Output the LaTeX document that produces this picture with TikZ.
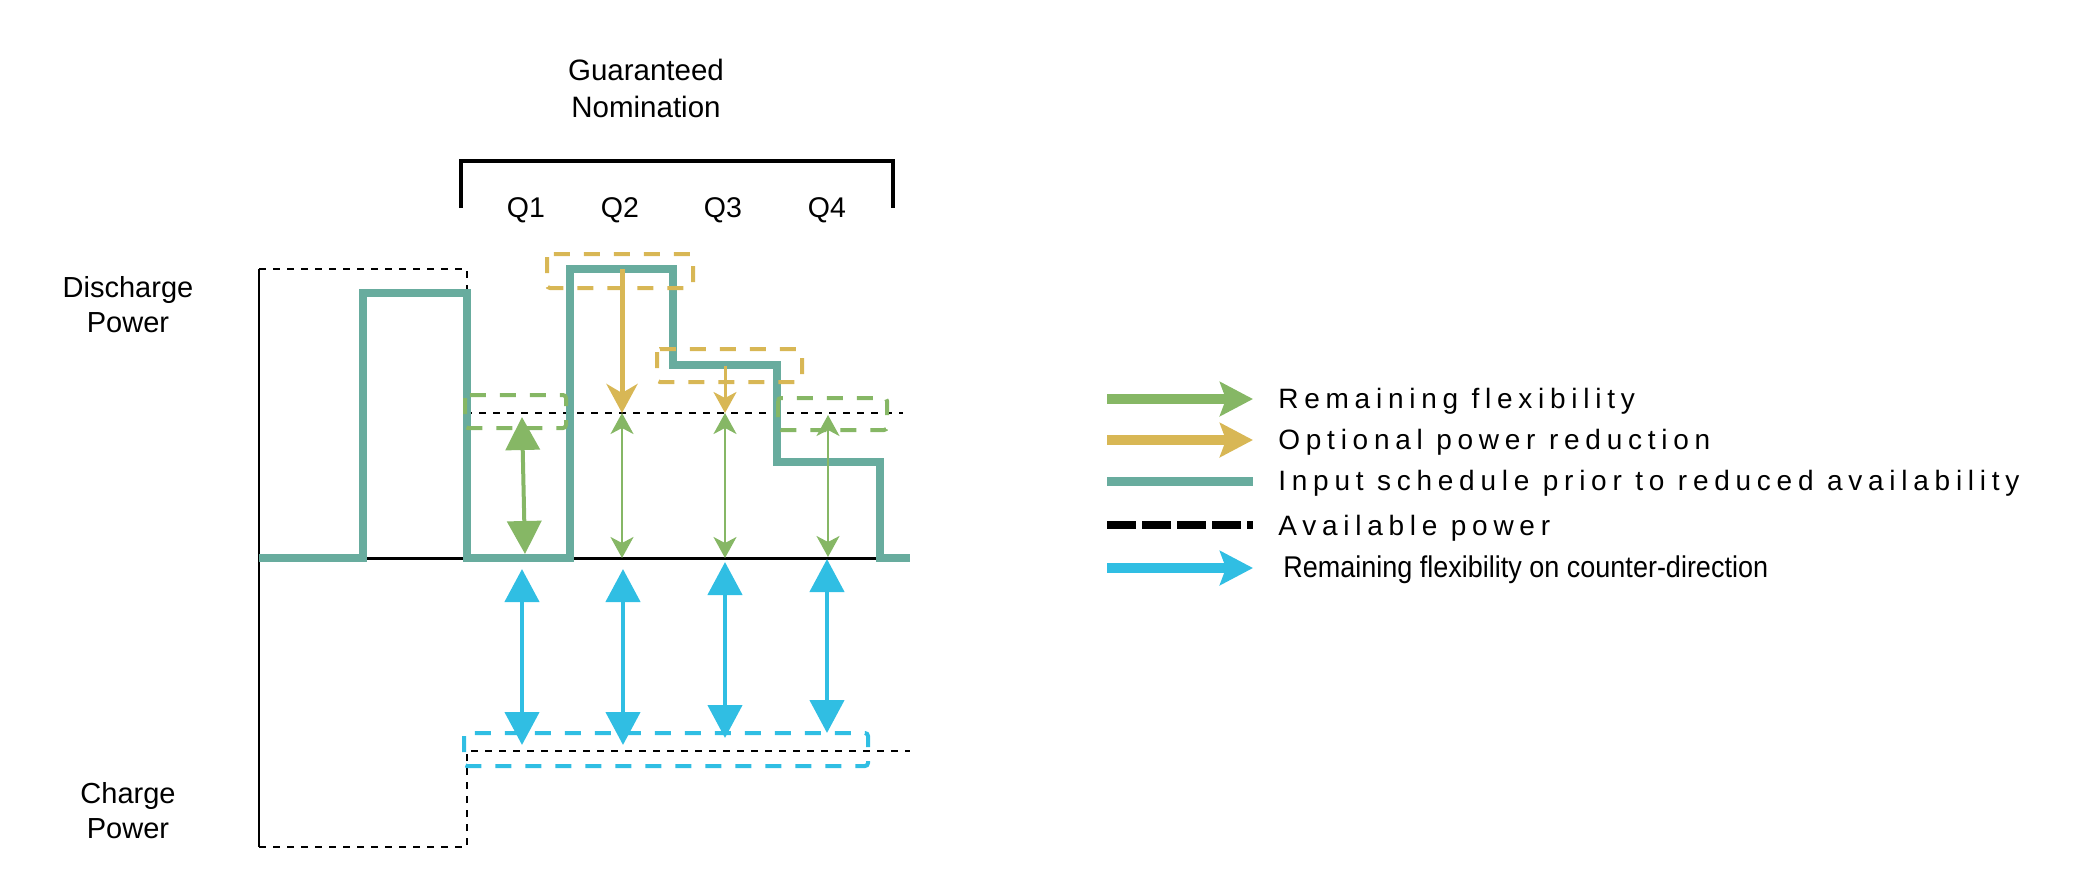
\documentclass[tikz,border=0pt]{standalone}
\usepackage{fontspec}
\setmainfont{Liberation Sans}
\newfontfamily\legendfont[LetterSpace=20.5]{Liberation Sans}
\newfontfamily\narrowfont[FakeStretch=0.9]{Liberation Sans}
\usepackage{tikz}
\usetikzlibrary{arrows.meta}

\definecolor{flexgreen}{HTML}{86B765}
\definecolor{cutgold}{HTML}{D8B755}
\definecolor{schedteal}{HTML}{68AC9E}
\definecolor{counterblue}{HTML}{30BEE3}

\begin{document}
\begin{tikzpicture}[
    x=0.5pt, y=-0.5pt,
    axlabel/.style={font=\fontsize{14.5pt}{17.5pt}\selectfont, align=center, inner sep=0pt},
    qlabel/.style={font=\fontsize{14.25pt}{17pt}\selectfont, anchor=base, inner sep=0pt},
    legtext/.style={font=\fontsize{14pt}{17pt}\selectfont\legendfont, anchor=base west, inner sep=0pt},
    sched/.style={schedteal, line width=3.75pt, line join=miter},
    avail/.style={black, line width=1.3pt, dash pattern=on 3.5pt off 3.5pt},
    flexbox/.style={draw=#1, line width=2pt, dash pattern=on 8pt off 7pt, rounded corners=1.5pt},
    flexbig/.style={flexgreen, line width=2pt, {Triangle[length=16.5pt, width=17pt]}-{Triangle[length=16.5pt, width=17pt]}},
    flexsmall/.style={flexgreen, line width=1.25pt, {Stealth[length=10.5pt, width=11.5pt, inset=3pt]}-{Stealth[length=10.5pt, width=11.5pt, inset=3pt]}},
    cutbig/.style={cutgold, line width=2.5pt, -{Stealth[length=14.5pt, width=15.5pt, inset=4.5pt]}},
    cutsmall/.style={cutgold, line width=1.5pt, -{Stealth[length=10.5pt, width=11.5pt, inset=3pt]}},
    counter/.style={counterblue, line width=2.25pt, {Triangle[length=16.5pt, width=17pt]}-{Triangle[length=16.5pt, width=17pt]}},
    legarrow/.style={#1, line width=5pt, -{Stealth[length=16.5pt, width=17pt, inset=3pt]}},
]
\useasboundingbox (0,0) rectangle (2100,880);

% Guaranteed nomination bracket
\node[axlabel, font=\fontsize{14.75pt}{18.5pt}\selectfont] (gnom) at (646,88) {Guaranteed\\Nomination};
\draw[line width=2.25pt] (461,208) -- (461,161) -- (893,161) -- (893,208);
\node[qlabel] (q1) at (526,217) {Q1};
\node[qlabel] (q2) at (620,217) {Q2};
\node[qlabel] (q3) at (723,217) {Q3};
\node[qlabel] (q4) at (827,217) {Q4};

% Axis labels
\node[axlabel] (dis) at (128,305) {Discharge\\Power};
\node[axlabel] (chg) at (128,811) {Charge\\Power};

% Available power
\draw[avail] (259,269) -- (467,269) -- (467,413) -- (903,413);
\draw[avail] (259,847) -- (467,847) -- (467,751) -- (910,751);

% Axes
\draw[line width=1.25pt] (259,269) -- (259,847);
\draw[line width=1.5pt] (259,558) -- (880,558);

% Input schedule
\draw[sched] (259,558) -- (363,558) -- (363,293) -- (467,293) -- (467,558)
    -- (570,558) -- (570,269) -- (673,269) -- (673,365) -- (777,365)
    -- (777,462) -- (880,462) -- (880,558) -- (910,558);

% Dashed boxes
\draw[flexbox=cutgold] (547,254) rectangle (693,288);
\draw[flexbox=cutgold] (657,349) rectangle (802,382);
\draw[flexbox=flexgreen] (465,395) rectangle (566,428);
\draw[flexbox=flexgreen] (778,398) rectangle (887,430);
\draw[flexbox=counterblue] (464,733) rectangle (868,766);

% Optional power reduction
\draw[cutbig] (622,269) -- (622,413);
\draw[cutsmall] (725,366) -- (725,413);

% Remaining flexibility
\draw[flexbig] (522,417) -- (525,554);
\draw[flexsmall] (622,413) -- (622,558);
\draw[flexsmall] (725,413) -- (725,558);
\draw[flexsmall] (828,415) -- (828,557);

% Counter-direction
\draw[counter] (522,569) -- (522,745);
\draw[counter] (623,569) -- (623,745);
\draw[counter] (725,562) -- (725,738);
\draw[counter] (827,559) -- (827,733);

% Legend
\draw[legarrow=flexgreen] (1107,399) -- (1253,399);
\node[legtext] (lflex) at (1278,408) {Remaining flexibility};
\draw[legarrow=cutgold] (1107,440) -- (1253,440);
\node[legtext] (lcut) at (1278,449) {Optional power reduction};
\draw[schedteal, line width=4.5pt] (1107,481) -- (1253,481);
\node[legtext] (lsched) at (1278,490) {Input schedule prior to reduced availability};
\draw[line width=3.75pt, dash pattern=on 14.5pt off 3pt] (1107,525) -- (1253,525);
\node[legtext] (lavail) at (1278,535) {Available power};
\draw[legarrow=counterblue] (1107,568) -- (1253,568);
\node[legtext, font=\fontsize{15pt}{18pt}\selectfont\narrowfont] (lcounter) at (1283,577) {Remaining flexibility on counter-direction};

\end{tikzpicture}
\end{document}
